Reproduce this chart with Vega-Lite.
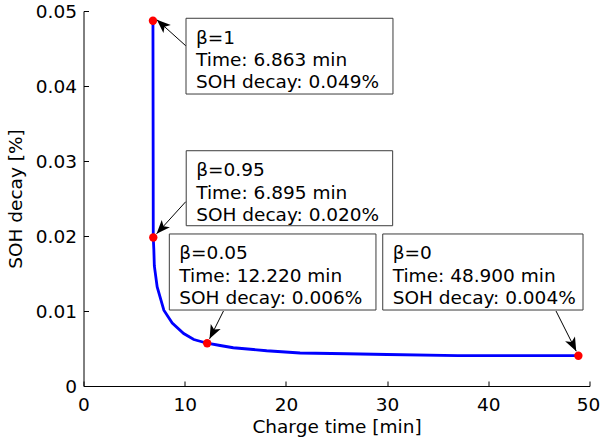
{
  "$schema": "https://vega.github.io/schema/vega-lite/v6.json",
  "width": 506,
  "height": 375,
  "autosize": {"type": "none"},
  "padding": {"left": 83.5, "top": 11, "right": 10.5, "bottom": 58},
  "background": "white",
  "config": {
    "font": "DejaVu Sans",
    "view": {"stroke": null},
    "axis": {
      "grid": false,
      "domainColor": "#000000",
      "tickColor": "#000000",
      "labelColor": "#000000",
      "titleColor": "#000000",
      "labelFont": "DejaVu Sans",
      "titleFont": "DejaVu Sans",
      "labelFontSize": 18.5,
      "titleFontSize": 18.5,
      "titleFontWeight": "normal",
      "tickSize": -5,
      "domainWidth": 1,
      "tickWidth": 1
    },
    "axisX": {"labelPadding": 14},
    "axisY": {"labelPadding": 12}
  },
  "datasets": {
    "curve": [
      {"x": 6.863, "y": 0.0487},
      {"x": 6.895, "y": 0.0198},
      {"x": 6.95, "y": 0.0182},
      {"x": 7.0, "y": 0.016},
      {"x": 7.28, "y": 0.0132},
      {"x": 7.94, "y": 0.0101},
      {"x": 8.77, "y": 0.0084},
      {"x": 9.9, "y": 0.007},
      {"x": 10.9, "y": 0.0062},
      {"x": 12.22, "y": 0.0057},
      {"x": 13.5, "y": 0.0054},
      {"x": 14.8, "y": 0.0051},
      {"x": 16.5, "y": 0.0049},
      {"x": 18.1, "y": 0.0047},
      {"x": 21.4, "y": 0.0044},
      {"x": 26, "y": 0.0043},
      {"x": 30, "y": 0.0042},
      {"x": 37, "y": 0.00405},
      {"x": 48.9, "y": 0.00404}
    ],
    "pts": [
      {"beta": "1", "x": 6.863, "y": 0.0487},
      {"beta": "0.95", "x": 6.895, "y": 0.0198},
      {"beta": "0.05", "x": 12.22, "y": 0.0057},
      {"beta": "0", "x": 48.9, "y": 0.00404}
    ],
    "ann": [
      {"label": "β=1|Time: 6.863 min|SOH decay: 0.049%", "bx1": 10.13, "bx2": 30.58, "by1": 0.04903, "by2": 0.03893, "sx": 10.1, "sy": 0.04537, "tx": 7.25, "ty": 0.04883},
      {"label": "β=0.95|Time: 6.895 min|SOH decay: 0.020%", "bx1": 10.15, "bx2": 30.55, "by1": 0.03137, "by2": 0.02137, "sx": 10.1, "sy": 0.02457, "tx": 7.22, "ty": 0.02029},
      {"label": "β=0.05|Time: 12.220 min|SOH decay: 0.006%", "bx1": 8.48, "bx2": 28.9, "by1": 0.02027, "by2": 0.01013, "sx": 13.83, "sy": 0.01, "tx": 12.456, "ty": 0.006288},
      {"label": "β=0|Time: 48.900 min|SOH decay: 0.004%", "bx1": 29.57, "bx2": 49.36, "by1": 0.02027, "by2": 0.01013, "sx": 46.69, "sy": 0.01, "tx": 48.69, "ty": 0.00464}
    ]
  },
  "layer": [
    {
      "data": {"name": "curve"},
      "mark": {"type": "line", "color": "#0000ff", "strokeWidth": 2.8},
      "encoding": {
        "x": {
          "field": "x", "type": "quantitative",
          "scale": {"domain": [0, 50], "nice": false},
          "axis": {"values": [0, 10, 20, 30, 40, 50], "labelFlush": false, "labelOffset": {"condition": {"test": "datum.value == 50", "value": -1.5}, "value": 0}, "title": "Charge time [min]", "titlePadding": 4}
        },
        "y": {
          "field": "y", "type": "quantitative",
          "scale": {"domain": [0, 0.05], "nice": false},
          "axis": {"values": [0, 0.01, 0.02, 0.03, 0.04, 0.05], "labelExpr": "datum.value == 0 ? '0' : format(datum.value, '.2f')", "title": "SOH decay [%]", "titlePadding": 10}
        }
      }
    },
    {
      "data": {"name": "ann"},
      "mark": {"type": "rect", "fill": "#ffffff", "stroke": "#3c3c3c", "strokeWidth": 1},
      "encoding": {
        "x": {"field": "bx1", "type": "quantitative"},
        "x2": {"field": "bx2"},
        "y": {"field": "by1", "type": "quantitative"},
        "y2": {"field": "by2"}
      }
    },
    {
      "data": {"name": "ann"},
      "mark": {"type": "text", "align": "left", "baseline": "alphabetic", "dx": 10, "dy": 25.5, "lineBreak": "|", "lineHeight": 22.3, "fontSize": 18.5, "font": "DejaVu Sans", "color": "#000000"},
      "encoding": {
        "x": {"field": "bx1", "type": "quantitative"},
        "y": {"field": "by1", "type": "quantitative"},
        "text": {"field": "label"}
      }
    },
    {
      "data": {"name": "ann"},
      "mark": {"type": "rule", "color": "#000000", "strokeWidth": 1},
      "encoding": {
        "x": {"field": "sx", "type": "quantitative"},
        "y": {"field": "sy", "type": "quantitative"},
        "x2": {"field": "tx"},
        "y2": {"field": "ty"}
      }
    },
    {
      "data": {"name": "pts"},
      "mark": {"type": "point", "shape": "circle", "filled": true, "color": "#ff0000", "opacity": 1, "size": 70},
      "encoding": {
        "x": {"field": "x", "type": "quantitative"},
        "y": {"field": "y", "type": "quantitative"}
      }
    },
    {
      "data": {"name": "ann"},
      "transform": [
        {"calculate": "atan2(-(datum.ty - datum.sy) * 7500, (datum.tx - datum.sx) * 10.12) * 180 / PI", "as": "ang"}
      ],
      "mark": {"type": "point", "shape": "M0,0 L-2,-0.8 L-1.5,0 L-2,0.8 Z", "filled": true, "color": "#000000", "opacity": 1, "size": 190},
      "encoding": {
        "x": {"field": "tx", "type": "quantitative"},
        "y": {"field": "ty", "type": "quantitative"},
        "angle": {"field": "ang", "type": "quantitative", "scale": null}
      }
    }
  ]
}
